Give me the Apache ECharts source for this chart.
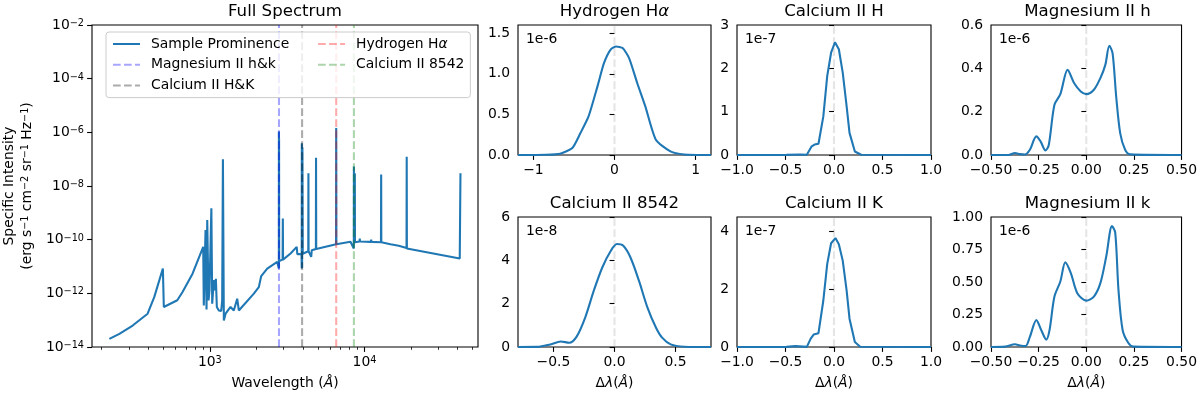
<!DOCTYPE html>
<html>
<head>
<meta charset="utf-8">
<script src="https://cdn.jsdelivr.net/npm/echarts@6.0.0/dist/echarts.min.js"></script>
<style>
  html, body { margin: 0; padding: 0; background: #fff; }
  #main { width: 1200px; height: 396px; }
</style>
</head>
<body>
<div id="main"></div>
<script>
var FONT = 'DejaVu Sans';
var BLUE = '#1f77b4';
var FS = 13.9;
var MINUS = '\u2212';

// full spectrum: wavelength (A) and specific intensity
var wavelength = [224, 260, 317, 396, 437, 497, 504, 616, 666, 773, 906, 914,
  938, 952, 962, 981, 995, 1023, 1036, 1061, 1075, 1094, 1110, 1143, 1185, 1202,
  1215, 1232, 1264, 1361, 1429, 1503, 1540, 1925, 2074, 2149, 2350, 2728,
  2790, 2794, 2796, 2800, 2803, 2808, 2955, 2965, 2975, 3325, 3646, 3679,
  3915, 3928, 3934, 3950, 3968, 3990, 4330, 4340, 4350, 4480, 4523, 4560,
  4850, 4861, 4875, 6550, 6563, 6580, 8119, 8530, 8542, 8555, 8650, 8662, 8680,
  9300, 9324, 9350, 11000, 11050, 11100, 12780, 12818, 12850, 14720, 16660,
  18700, 18751, 18800, 41300, 41750];
var intensity = [2.0e-14, 3.1e-14, 6.3e-14, 1.74e-13, 7.2e-13, 8.4e-12, 3.1e-13, 5.5e-13, 1.12e-12, 5.4e-12, 5.4e-11, 3.5e-13,
  2.3e-10, 2.5e-13, 5.4e-10, 5.5e-13, 1.3e-12, 1.47e-9, 4.1e-13, 3.1e-12, 1.3e-12, 3.5e-12, 3.1e-13, 2.3e-13, 2.2e-13, 5.5e-13,
  1.0e-7, 9.8e-14, 1.74e-13, 3.1e-13, 2.3e-13, 6.3e-13, 2.3e-13, 9.8e-13, 1.7e-12, 4.4e-12, 8.4e-12, 1.48e-11,
  1.5e-11, 8.4e-12, 1.07e-6, 9e-12, 6e-7, 1.6e-11, 1.8e-11, 6.2e-10, 1.8e-11, 3.05e-11, 5.4e-11, 2.9e-11,
  2.9e-11, 8.4e-12, 3.9e-7, 9e-12, 2.7e-7, 3.0e-11, 3.7e-11, 3.0e-8, 3.7e-11, 3.9e-11, 2.3e-11, 4.0e-11,
  4.5e-11, 1.14e-7, 4.5e-11, 6.8e-11, 1.44e-6, 6.8e-11, 8.3e-11, 4.7e-11, 5.3e-8, 8.0e-11, 8.0e-11, 3.0e-8, 8.0e-11,
  8.5e-11, 1.1e-10, 8.5e-11, 8.3e-11, 1.0e-10, 8.3e-11, 8.0e-11, 2.7e-8, 8.0e-11, 6.8e-11, 5.9e-11,
  4.9e-11, 1.24e-7, 4.7e-11, 2.0e-11, 3.0e-8];

// reference line positions (A)
var lineNames = ['Magnesium II h&k', 'Calcium II H&K', 'Hydrogen H\u03b1', 'Calcium II 8542'];
var lineWaves = [2800, 3950, 6563, 8542];
var lineColors = ['rgba(0,0,255,0.35)', 'rgba(0,0,0,0.33)', 'rgba(255,0,0,0.33)', 'rgba(0,128,0,0.33)'];

var specRange = [173, 54200];
var specIRange = [1e-14, 1e-2];
var specXTicks = [1000, 10000];
var specXMinor = [200, 300, 400, 500, 600, 700, 800, 900, 2000, 3000, 4000, 5000, 6000, 7000, 8000, 9000, 20000, 30000, 40000, 50000];
var specYTicks = [1e-14, 1e-12, 1e-10, 1e-8, 1e-6, 1e-4, 1e-2];

// line profiles, delta lambda (A) and intensity in units of the scale text
var haDl = [-1.19, -0.85, -0.67, -0.52, -0.42, -0.32, -0.21, -0.13, -0.05, 0.02, 0.10, 0.18, 0.28, 0.38, 0.51, 0.69, 0.86, 1.19];
var haVal = [0, 0.003, 0.016, 0.086, 0.27, 0.475, 0.845, 1.13, 1.295, 1.336, 1.316, 1.193, 0.886, 0.598, 0.188, 0.044, 0.007, 0];

var caHDl = [-1, -0.49, -0.35, -0.28, -0.23, -0.2, -0.16, -0.11, -0.07, -0.03, 0.01, 0.05, 0.09, 0.13, 0.16, 0.215, 0.28, 1];
var caHVal = [0, 0.002, 0.012, 0.007, 0.2, 0.24, 0.26, 0.89, 1.82, 2.36, 2.6, 2.44, 1.9, 1.13, 0.51, 0.08, 0.007, 0];

var mgHDl = [-0.5, -0.41, -0.374, -0.348, -0.322, -0.296, -0.262, -0.24, -0.214, -0.197, -0.167, -0.136, -0.098, -0.064, -0.029, 0, 0.04, 0.074, 0.1, 0.121, 0.138, 0.157, 0.178, 0.204, 0.23, 0.5];
var mgHVal = [0, 0, 0.009, 0.004, 0.002, 0.024, 0.086, 0.063, 0.021, 0.045, 0.232, 0.281, 0.393, 0.332, 0.293, 0.281, 0.301, 0.355, 0.416, 0.504, 0.47, 0.27, 0.101, 0.024, 0.003, 0];

var ca8542Dl = [-0.79, -0.63, -0.525, -0.44, -0.37, -0.31, -0.24, -0.17, -0.10, -0.03, 0.02, 0.07, 0.13, 0.2, 0.27, 0.34, 0.39, 0.46, 0.57, 0.79];
var ca8542Val = [0, 0.005, 0.12, 0.25, 0.2, 0.48, 1.36, 2.59, 3.67, 4.44, 4.75, 4.68, 4.14, 3.06, 1.82, 0.89, 0.43, 0.12, 0.015, 0];

var caKDl = [-1, -0.49, -0.4, -0.28, -0.24, -0.21, -0.16, -0.11, -0.07, -0.03, 0.015, 0.05, 0.09, 0.13, 0.16, 0.215, 0.27, 1];
var caKVal = [0, 0.004, 0.03, 0.004, 0.29, 0.43, 0.48, 1.61, 2.87, 3.59, 3.77, 3.56, 2.99, 1.96, 0.98, 0.17, 0.01, 0];

var mgKDl = [-0.5, -0.426, -0.374, -0.348, -0.319, -0.296, -0.262, -0.236, -0.21, -0.193, -0.167, -0.136, -0.11, -0.081, -0.047, 0, 0.04, 0.074, 0.105, 0.135, 0.152, 0.169, 0.191, 0.221, 0.247, 0.5];
var mgKVal = [0, 0.003, 0.021, 0.012, 0.007, 0.078, 0.207, 0.129, 0.057, 0.129, 0.388, 0.504, 0.651, 0.569, 0.414, 0.357, 0.388, 0.491, 0.698, 0.93, 0.879, 0.44, 0.129, 0.031, 0.003, 0];

var lineCentre = 0;

var panels = [
  {title: '{n|Hydrogen H}{i|\u03b1}', dl: haDl, val: haVal, scale: '1e-6', xr: [-1.19, 1.19], xt: [-1, 0, 1], xd: 0, yr: [0, 1.6], yt: [0, 0.5, 1, 1.5], yd: 1, row: 0, col: 0, smooth: 0.2},
  {title: '{n|Calcium II H}', dl: caHDl, val: caHVal, scale: '1e-7', xr: [-1, 1], xt: [-1, -0.5, 0, 0.5, 1], xd: 1, yr: [0, 3], yt: [0, 1, 2, 3], yd: 0, row: 0, col: 1, smooth: false},
  {title: '{n|Magnesium II h}', dl: mgHDl, val: mgHVal, scale: '1e-6', xr: [-0.5, 0.5], xt: [-0.5, -0.25, 0, 0.25, 0.5], xd: 2, yr: [0, 0.6], yt: [0, 0.2, 0.4, 0.6], yd: 1, row: 0, col: 2, smooth: 0.3},
  {title: '{n|Calcium II 8542}', dl: ca8542Dl, val: ca8542Val, scale: '1e-8', xr: [-0.79, 0.79], xt: [-0.5, 0, 0.5], xd: 1, yr: [0, 6], yt: [0, 2, 4, 6], yd: 0, row: 1, col: 0, smooth: 0.3},
  {title: '{n|Calcium II K}', dl: caKDl, val: caKVal, scale: '1e-7', xr: [-1, 1], xt: [-1, -0.5, 0, 0.5, 1], xd: 1, yr: [0, 4.5], yt: [0, 2, 4], yd: 0, row: 1, col: 1, smooth: false},
  {title: '{n|Magnesium II k}', dl: mgKDl, val: mgKVal, scale: '1e-6', xr: [-0.5, 0.5], xt: [-0.5, -0.25, 0, 0.25, 0.5], xd: 2, yr: [0, 1.0], yt: [0, 0.25, 0.5, 0.75, 1], yd: 2, row: 1, col: 2, smooth: 0.3}
];

// layout
var mainBox = {left: 92, top: 25, width: 386, height: 322};
var colLeft = [518, 737, 991];
var colWidth = [193, 194, 193];
var rowTop = [25, 217];
var rowHeight = 130;

var dash = [7.7, 3.3];
var lw = 2.08;

function txt(extra) {
  var s = {fontFamily: FONT, fontSize: FS, color: '#000', fontWeight: 'normal'};
  for (var k in extra) s[k] = extra[k];
  return s;
}
var supRich = {
  b: txt({lineHeight: 16}),
  s: txt({fontSize: 9.7, lineHeight: 11, verticalAlign: 'top', padding: [1.5, 0, 0, 0]})
};
function fmtNum(v, d) {
  return (v < 0 ? MINUS : '') + Math.abs(v).toFixed(d);
}
function powLabel(v) {
  var e = Math.round(Math.log10(v));
  return '{b|10}{s|' + (e < 0 ? MINUS + (-e) : e) + '}';
}

var tickStyle = {color: '#000', width: 1.1};

var grids = [{left: mainBox.left, top: mainBox.top, width: mainBox.width, height: mainBox.height,
  show: true, borderColor: '#000', borderWidth: 1.1, containLabel: false}];
var xAxes = [
  {type: 'log', logBase: 10, gridIndex: 0, position: 'bottom', min: specRange[0], max: specRange[1],
    axisLine: {show: false}, splitLine: {show: false},
    axisTick: {show: true, customValues: specXTicks, length: 4.9, lineStyle: tickStyle},
    axisLabel: {customValues: specXTicks, formatter: powLabel, rich: supRich, margin: 7},
    name: '{n|Wavelength (}{i|\u00c5}{n|)}', nameLocation: 'middle', nameGap: 29, nameMoveOverlap: false,
    nameTextStyle: {rich: {n: txt({}), i: txt({fontStyle: 'italic'})}}},
  {type: 'log', logBase: 10, gridIndex: 0, position: 'bottom', min: specRange[0], max: specRange[1],
    axisLine: {show: false}, splitLine: {show: false}, axisLabel: {show: false},
    axisTick: {show: true, customValues: specXMinor, length: 2.8, lineStyle: {color: '#000', width: 0.8}}}
];
var yAxes = [
  {type: 'log', logBase: 10, gridIndex: 0, min: specIRange[0], max: specIRange[1],
    axisLine: {show: false}, splitLine: {show: false},
    axisTick: {show: true, customValues: specYTicks, length: 4.9, lineStyle: tickStyle},
    axisLabel: {customValues: specYTicks, formatter: powLabel, rich: supRich, margin: 8},
    name: '{n|Specific Intensity}\n{n|(erg s}{s|' + MINUS + '1}{n| cm}{s|' + MINUS + '2}{n| sr}{s|' + MINUS + '1}{n| Hz}{s|' + MINUS + '1}{n|)}',
    nameLocation: 'middle', nameRotate: 90, nameGap: 56, nameMoveOverlap: false,
    nameTextStyle: {rich: {
      n: txt({lineHeight: 18}),
      s: txt({fontSize: 9.7, lineHeight: 11, verticalAlign: 'top', padding: [2, 0, 0, 0]})
    }}}
];

var series = [{
  name: 'Sample Prominence', type: 'line', xAxisIndex: 0, yAxisIndex: 0,
  data: wavelength.map(function (w, i) { return [w, intensity[i]]; }),
  symbol: 'none', lineStyle: {color: BLUE, width: lw}, itemStyle: {color: BLUE}, z: 2
}];
lineWaves.forEach(function (w, i) {
  series.push({
    name: lineNames[i], type: 'line', xAxisIndex: 0, yAxisIndex: 0,
    data: [[w, specIRange[0]], [w, specIRange[1]]],
    symbol: 'none', lineStyle: {color: lineColors[i], width: lw, type: dash},
    itemStyle: {color: lineColors[i]}, z: 3
  });
});

var titles = [{text: 'Full Spectrum', left: mainBox.left + mainBox.width / 2, top: 3.5, textAlign: 'center', padding: 0,
  textStyle: txt({fontSize: 16.6})}];
var graphics = [];

panels.forEach(function (p, k) {
  var gi = k + 1;
  var left = colLeft[p.col], top = rowTop[p.row], width = colWidth[p.col];
  grids.push({left: left, top: top, width: width, height: rowHeight, show: true, borderColor: '#000', borderWidth: 1.1, containLabel: false});
  var xa = {type: 'value', gridIndex: gi, min: p.xr[0], max: p.xr[1],
    axisLine: {show: false}, splitLine: {show: false},
    axisTick: {show: true, customValues: p.xt, length: 4.9, lineStyle: tickStyle},
    axisLabel: {customValues: p.xt, margin: 8, formatter: (function (d) { return function (v) { return fmtNum(v, d); }; })(p.xd), fontFamily: FONT, fontSize: FS, color: '#000'}};
  if (p.row === 1) {
    xa.name = '{u|\u0394}{i|\u03bb}{u|(}{i|\u00c5}{u|)}';
    xa.nameLocation = 'middle';
    xa.nameGap = 29;
    xa.nameMoveOverlap = false;
    xa.nameTextStyle = {rich: {u: txt({}), i: txt({fontStyle: 'italic'})}};
  }
  xAxes.push(xa);
  yAxes.push({type: 'value', gridIndex: gi, min: p.yr[0], max: p.yr[1],
    axisLine: {show: false}, splitLine: {show: false},
    axisTick: {show: true, customValues: p.yt, length: 4.9, lineStyle: tickStyle},
    axisLabel: {customValues: p.yt, margin: 8, formatter: (function (d) { return function (v) { return fmtNum(v, d); }; })(p.yd), fontFamily: FONT, fontSize: FS, color: '#000'}});
  var ax = xAxes.length - 1, ay = yAxes.length - 1;
  series.push({type: 'line', xAxisIndex: ax, yAxisIndex: ay, silent: true,
    data: [[lineCentre, p.yr[0]], [lineCentre, p.yr[1]]], symbol: 'none',
    lineStyle: {color: 'rgba(150,150,150,0.25)', width: lw, type: dash}, z: 1});
  series.push({type: 'line', xAxisIndex: ax, yAxisIndex: ay,
    data: p.dl.map(function (x, i) { return [x, p.val[i]]; }),
    symbol: 'none', smooth: p.smooth, lineStyle: {color: BLUE, width: lw}, z: 2});
  titles.push({text: p.title, left: left + width / 2, top: top - 21.5, textAlign: 'center', padding: 0,
    textStyle: txt({fontSize: 16.6, rich: {n: txt({fontSize: 16.6}), i: txt({fontSize: 16.6, fontStyle: 'italic'})}})});
  graphics.push({type: 'text', x: left + 8, y: top + 14, silent: true,
    style: {text: p.scale, fontFamily: FONT, fontSize: FS, fill: '#000', verticalAlign: 'middle', align: 'left'}});
});

// g: gap between handle and label, r: extra room after the first legend column
var legendRich = {
  n: txt({lineHeight: 14}),
  i: txt({lineHeight: 14, fontStyle: 'italic'}),
  g: txt({lineHeight: 14, width: 6}),
  r: txt({lineHeight: 14, width: 21})
};
var legendFirstColumn = ['Sample Prominence', lineNames[0], lineNames[1]];

var option = {
  animation: false,
  backgroundColor: '#fff',
  title: titles,
  grid: grids,
  xAxis: xAxes,
  yAxis: yAxes,
  legend: {
    orient: 'vertical', left: 106, top: 32, height: 68,
    itemWidth: 27, itemHeight: 14, itemGap: 6.8, padding: [5, 6, 5, 6],
    backgroundColor: 'rgba(255,255,255,0.8)', borderColor: '#cccccc', borderWidth: 1, borderRadius: 3,
    selectedMode: false, itemStyle: {opacity: 0},
    textStyle: {rich: legendRich},
    formatter: function (name) {
      var body = name === 'Hydrogen H\u03b1' ? '{n|Hydrogen H}{i|\u03b1}' : '{n|' + name + '}';
      var tail = legendFirstColumn.indexOf(name) >= 0 ? '{r| }' : '';
      return '{g| }' + body + tail;
    },
    data: ['Sample Prominence', lineNames[0], lineNames[1], lineNames[2], lineNames[3]]
  },
  graphic: graphics,
  series: series
};

var chart = echarts.init(document.getElementById('main'));
chart.setOption(option);
</script>
</body>
</html>
